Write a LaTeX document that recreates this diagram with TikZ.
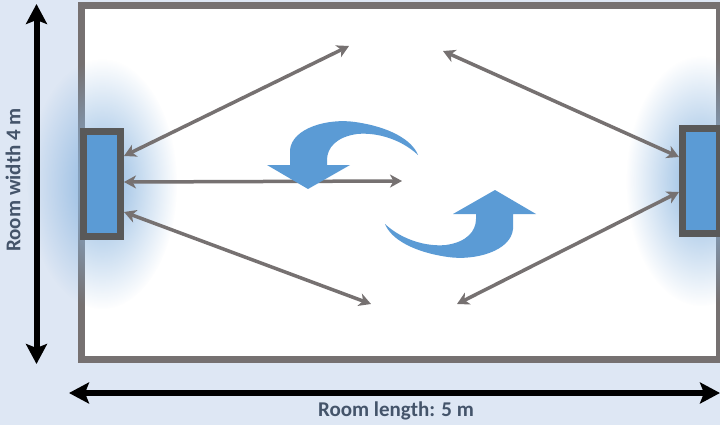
\documentclass[tikz,border=0pt]{standalone}
\usepackage{fontspec}
\setmainfont{Carlito}
\usetikzlibrary{arrows.meta,fadings}

\definecolor{bgblue}{RGB}{222,231,244}
\definecolor{wallgray}{RGB}{118,113,113}
\definecolor{radgray}{RGB}{89,89,89}
\definecolor{radblue}{RGB}{91,155,213}
\definecolor{glowblue}{RGB}{140,182,224}
\definecolor{labelslate}{RGB}{68,84,106}

\tikzfading[name=glowfade, inner color=transparent!0, outer color=transparent!100]

\tikzset{
  radiator/.style={draw=radgray, fill=radblue, line width=7pt, minimum width=37pt, minimum height=105pt, inner sep=0pt},
  flow/.style={draw=wallgray, line width=3.5pt, {Stealth[length=12pt,width=13pt,inset=3.5pt]}-{Stealth[length=12pt,width=13pt,inset=3.5pt]}},
  dimension/.style={line width=6pt, {Stealth[length=20pt,width=21pt,inset=4pt]}-{Stealth[length=20pt,width=21pt,inset=4pt]}},
  dimlabel/.style={text=labelslate, font=\fontsize{21}{25}\selectfont\bfseries},
}

% one curved air arrow, turned by the option
\newcommand{\swirlarrow}[1]{%
  \fill[radblue, #1] (290,165) -- (290,150)
    .. controls (292,128) and (328,118) .. (355,122)
    .. controls (390,127) and (412,140) .. (418,155)
    .. controls (402,140) and (378,132) .. (357,134)
    .. controls (336,137) and (327,148) .. (327,160)
    -- (327,165) -- (350,165) -- (308,189) -- (267,165) -- cycle;}

\begin{document}
\begin{tikzpicture}[x=1pt, y=-1pt]
  \useasboundingbox (0,0) rectangle (720,425);
  \clip (0,0) rectangle (720,425);
  \fill[bgblue] (0,0) rectangle (720,425);

  % Room
  \draw[wallgray, line width=7pt, fill=white] (81.5,6) rectangle (719.5,359.5);

  % Radiators and their warm air
  \node[radiator] (leftrad) at (102,184) {};
  \node[radiator] (rightrad) at (701,181) {};
  \fill[glowblue, path fading=glowfade] (leftrad.center) ellipse [x radius=75, y radius=125];
  \fill[glowblue, path fading=glowfade] (rightrad.center) ellipse [x radius=75, y radius=125];
  \node[radiator] at (leftrad.center) {};
  \node[radiator] at (rightrad.center) {};

  % Free ends of the air flow
  \coordinate (topleft) at (349,46);
  \coordinate (midpoint) at (402,181);
  \coordinate (botleft) at (371,304);
  \coordinate (topright) at (443,51);
  \coordinate (botright) at (457,304);

  \draw[flow] ([yshift=28pt]leftrad.east) -- (topleft);
  \draw[flow] ([yshift=2pt]leftrad.east) -- (midpoint);
  \draw[flow] ([yshift=-28pt]leftrad.east) -- (botleft);
  \draw[flow] ([yshift=24pt]rightrad.west) -- (topright);
  \draw[flow] ([yshift=-11pt]rightrad.west) -- (botright);

  % Circulation
  \swirlarrow{}
  \swirlarrow{rotate around={180:(401.5,189.5)}}

  % Dimensions
  \coordinate (wtop) at (36.5,4);
  \coordinate (wbot) at (36.5,364);
  \coordinate (lleft) at (69,393);
  \coordinate (lright) at (720,393);
  \draw[dimension] (wtop) -- (wbot);
  \draw[dimension] (lleft) -- (lright);
  \node[dimlabel, rotate=90] (widthlabel) at (13,180) {Room width 4 m};
  \node[dimlabel] (lengthlabel) at (396,411) {Room length: 5 m};
\end{tikzpicture}
\end{document}
